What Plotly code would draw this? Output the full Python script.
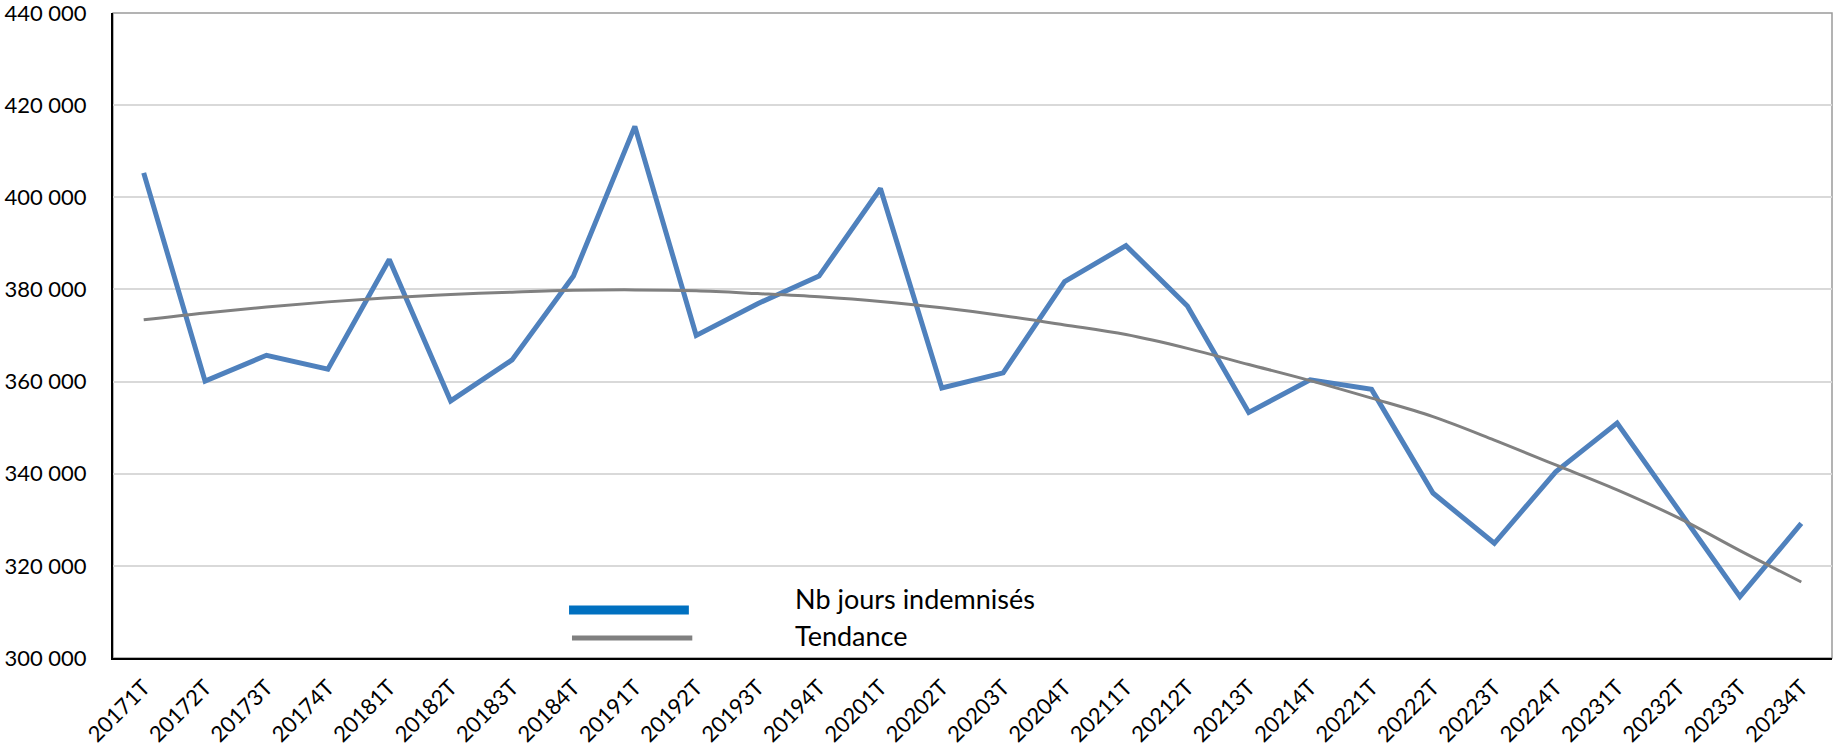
import plotly.graph_objects as go

categories = ["20171T", "20172T", "20173T", "20174T", "20181T", "20182T", "20183T", "20184T",
              "20191T", "20192T", "20193T", "20194T", "20201T", "20202T", "20203T", "20204T",
              "20211T", "20212T", "20213T", "20214T", "20221T", "20222T", "20223T", "20224T",
              "20231T", "20232T", "20233T", "20234T"]

nb_jours = [405300, 360100, 365700, 362700, 386500, 355800, 364700, 382900,
            415400, 370000, 376900, 382900, 401900, 358600, 361900, 381700,
            389500, 376400, 353300, 360400, 358300, 335800, 324900, 340400,
            351000, 332300, 313300, 329200]

tendance = [373400, 374900, 376200, 377300, 378200, 378900, 379400, 379800,
            379900, 379700, 379100, 378400, 377400, 376000, 374300, 372300,
            370200, 367200, 363700, 360200, 356400, 352400, 347300, 341900,
            336500, 330400, 323300, 316500]

y_ticks = [300000, 320000, 340000, 360000, 380000, 400000, 420000, 440000]

FONT = "Lato, 'Open Sans', sans-serif"

fig = go.Figure()
fig.add_trace(go.Scatter(x=categories, y=nb_jours, mode="lines", name="Nb jours indemnisés",
                         line=dict(color="#4F81BD", width=5), showlegend=False))
fig.add_trace(go.Scatter(x=categories, y=tendance, mode="lines", name="Tendance",
                         line=dict(color="#808080", width=3, shape="spline"), showlegend=False))

# custom legend (long samples like the original)
fig.add_shape(type="line", xref="paper", yref="paper", x0=0.2653, x1=0.335, y0=0.0744, y1=0.0744,
              line=dict(color="#0070C0", width=9))
fig.add_shape(type="line", xref="paper", yref="paper", x0=0.267, x1=0.337, y0=0.031, y1=0.031,
              line=dict(color="#808080", width=5))
fig.add_annotation(xref="paper", yref="paper", x=0.3956, y=0.093, xanchor="left", yanchor="middle",
                   text="Nb jours indemnisés", showarrow=False, font=dict(size=27, color="#000000", family=FONT))
fig.add_annotation(xref="paper", yref="paper", x=0.3956, y=0.035, xanchor="left", yanchor="middle",
                   text="Tendance", showarrow=False, font=dict(size=27, color="#000000", family=FONT))

# gray frame (top/right)
fig.add_shape(type="rect", xref="paper", yref="paper", x0=0, x1=1, y0=0, y1=1,
              line=dict(color="#9A9A9A", width=1.5), layer="below")

fig.update_layout(
    width=1834, height=747,
    margin=dict(l=113, r=2, t=13, b=89),
    paper_bgcolor="white", plot_bgcolor="white",
    separators=", ",
    font=dict(family=FONT, size=22, color="#000000"),
    xaxis=dict(type="category", tickangle=-45, showgrid=False, showline=True,
               linecolor="#000000", linewidth=2, ticks="", tickfont=dict(size=22),
               range=[-0.5, len(categories) - 0.5], automargin=False,
               ticklabelstandoff=6, ticklabeloverflow="allow"),
    yaxis=dict(range=[300000, 440000], tickvals=y_ticks, tickformat=",d",
               showgrid=True, gridcolor="#D9D9D9", gridwidth=1.5,
               showline=True, linecolor="#000000", linewidth=2, ticks="",
               tickfont=dict(size=22), zeroline=False, ticklabelstandoff=20,
               automargin=False, ticklabeloverflow="allow"),
)

fig.write_html("out.html", config={"displayModeBar": False},
               post_script="document.body.style.margin='0';document.body.style.overflow='hidden';")
